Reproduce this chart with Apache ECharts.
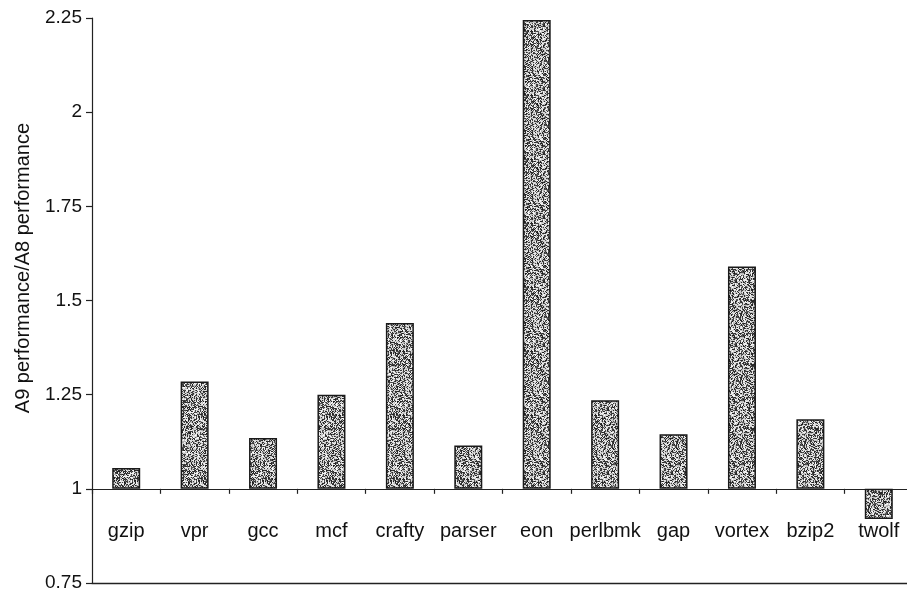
<!DOCTYPE html>
<html>
<head>
<meta charset="utf-8">
<title>A9 vs A8 performance</title>
<script src="https://cdn.jsdelivr.net/npm/echarts@6/dist/echarts.min.js"></script>
<style>
  html, body { margin: 0; padding: 0; background: #fff; }
  #chart { width: 907px; height: 594px; }
</style>
</head>
<body>
<div id="chart"></div>
<script>
// SPEC CPU2000 integer benchmarks: A9 performance relative to A8
const benchmarks = ['gzip', 'vpr', 'gcc', 'mcf', 'crafty', 'parser', 'eon', 'perlbmk', 'gap', 'vortex', 'bzip2', 'twolf'];
const ratios = [1.055, 1.285, 1.135, 1.25, 1.44, 1.115, 2.245, 1.235, 1.145, 1.59, 1.185, 0.92];

// Bars grow from the ratio 1.0 baseline, so the value axis is offset by it
const BASELINE = 1;
const AXIS_MIN = 0.75;
const AXIS_MAX = 2.25;
const AXIS_STEP = 0.25;

const FONT = "'Liberation Sans', Arial, Helvetica, sans-serif";

// Speckled grey fill, built from a deterministic integer hash
function stippleTexture(size) {
  const c = document.createElement('canvas');
  c.width = size; c.height = size;
  const ctx = c.getContext('2d');
  const img = ctx.createImageData(size, size);
  for (let y = 0; y < size; y++) {
    for (let x = 0; x < size; x++) {
      let h = (x * 374761393 + y * 668265263) | 0;
      h = Math.imul(h ^ (h >>> 13), 1274126177);
      h = (h ^ (h >>> 16)) >>> 0;
      const t = (h & 255) / 255;
      const g = t < 0.45 ? 25 + t * 150 : 175 + (t - 0.45) * 145;
      const i = (y * size + x) * 4;
      img.data[i] = img.data[i + 1] = img.data[i + 2] = Math.round(g);
      img.data[i + 3] = 255;
    }
  }
  ctx.putImageData(img, 0, 0);
  return c;
}

const chart = echarts.init(document.getElementById('chart'), null, { renderer: 'canvas' });

const option = {
  backgroundColor: '#ffffff',
  animation: false,
  grid: { left: 92, right: -6, top: 18, bottom: 11, containLabel: false, outerBoundsMode: 'none' },
  xAxis: [
    {
      // axis line and ticks sitting on the 1.0 baseline
      type: 'category',
      data: benchmarks,
      axisLine: { show: true, onZero: true, lineStyle: { color: '#222', width: 1.2 } },
      axisTick: { show: true, length: 5, lineStyle: { color: '#222', width: 1.2 } },
      axisLabel: { show: false },
      splitLine: { show: false }
    },
    {
      // bottom frame line; carries the benchmark names above it
      type: 'category',
      data: benchmarks,
      position: 'bottom',
      axisLine: { show: true, onZero: false, lineStyle: { color: '#222', width: 1.4 } },
      axisTick: { show: false },
      axisLabel: {
        inside: true,
        interval: 0,
        margin: 42,
        color: '#111',
        fontSize: 20,
        fontFamily: FONT,
        hideOverlap: false
      },
      splitLine: { show: false }
    }
  ],
  yAxis: {
    type: 'value',
    min: AXIS_MIN - BASELINE,
    max: AXIS_MAX - BASELINE,
    interval: AXIS_STEP,
    axisLine: { show: true, lineStyle: { color: '#222', width: 1.2 } },
    axisTick: { show: true, length: 6, lineStyle: { color: '#222', width: 1.2 } },
    axisLabel: {
      margin: 10,
      color: '#111',
      fontSize: 19,
      fontFamily: FONT,
      formatter: v => String(+(v + BASELINE).toFixed(2))
    },
    splitLine: { show: false }
  },
  series: [
    {
      type: 'bar',
      xAxisIndex: 0,
      barWidth: 28,
      data: ratios.map(r => +(r - BASELINE).toFixed(4)),
      itemStyle: {
        color: { image: stippleTexture(64), repeat: 'repeat' },
        borderColor: '#1a1a1a',
        borderWidth: 1.5
      }
    }
  ],
  graphic: [
    {
      type: 'text',
      left: 13,
      top: 123,
      rotation: Math.PI / 2,
      style: {
        text: 'A9 performance/A8 performance',
        fill: '#111',
        font: '20px ' + FONT
      }
    }
  ]
};

chart.setOption(option);
</script>
</body>
</html>
